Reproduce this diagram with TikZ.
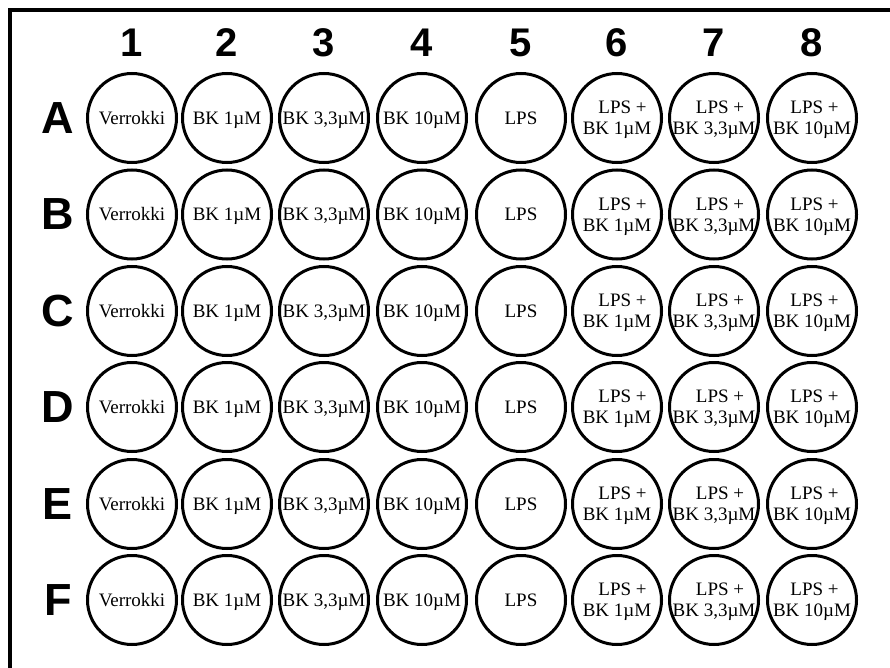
\documentclass[tikz,border=0pt]{standalone}
\usepackage{fontspec}
\setmainfont{Liberation Serif}
\newfontfamily\headfont{Liberation Sans}
\begin{document}
\begin{tikzpicture}[x=1pt,y=-1pt,
  well/.style={circle,draw,line width=3pt,minimum size=89pt,inner sep=0pt,align=center,font=\rmfamily\fontsize{19}{21}\selectfont},
  welltext/.style={inner sep=0pt,align=center,font=\rmfamily\fontsize{19}{21}\selectfont,yshift=-2pt},
  colhead/.style={font=\headfont\bfseries\fontsize{40}{40}\selectfont,inner sep=0pt},
  rowhead/.style={font=\headfont\bfseries\fontsize{45}{45}\selectfont,inner sep=0pt},
  frame/.style={line width=4pt}]
\useasboundingbox (0,0) rectangle (890,668);
\fill[white] (0,0) rectangle (890,668);
\coordinate (tl) at (10,10);
\coordinate (tr) at (892,10);
\coordinate (bl) at (10,670);
\draw[frame] (tr) -- (tl) -- (bl);
\foreach \c/\x in {1/132,2/227,3/324,4/422,5/521,6/617,7/714,8/812}
  \node[colhead] (col\c) at (\x,43) {\c};
\foreach \r/\y in {A/118,B/214.5,C/311,D/407,E/504,F/600} {
  \node[rowhead] (row\r) at (58,\y) {\r};
  \foreach \c/\x/\t in {1/132/{Verrokki},2/227/{BK 1µM},3/324/{BK 3,3µM},4/422/{BK 10µM},5/521/{LPS},
      6/617/{\hspace*{11pt}LPS +\\\strut BK 1µM},7/714/{\hspace*{12pt}LPS +\\\strut BK 3,3µM},8/812/{\hspace*{5pt}LPS +\\\strut BK 10µM}} {
    \node[well] (well\r\c) at (\x,\y) {};
    \node[welltext] (label\r\c) at (well\r\c.center) {\strut\t};
  }
}
\end{tikzpicture}
\end{document}
